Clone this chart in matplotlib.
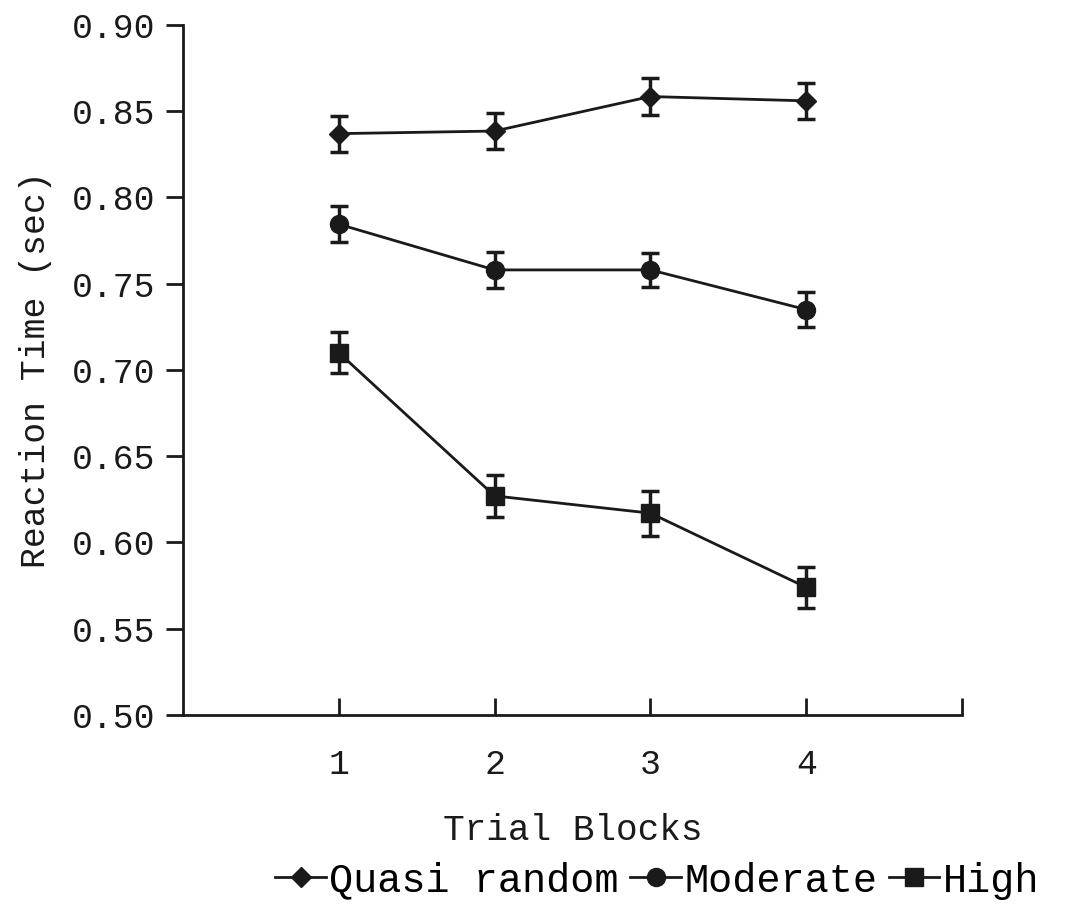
import matplotlib
matplotlib.use("Agg")
import matplotlib.pyplot as plt
from matplotlib.lines import Line2D

blocks = [1, 2, 3, 4]
quasi = [0.837, 0.8385, 0.8585, 0.856]
quasi_err = [0.0105, 0.0105, 0.0105, 0.0105]
moderate = [0.7845, 0.758, 0.758, 0.735]
moderate_err = [0.0105, 0.0105, 0.0100, 0.0100]
high = [0.710, 0.627, 0.617, 0.574]
high_err = [0.012, 0.012, 0.013, 0.012]
series_names = ["Quasi random", "Moderate", "High"]
yticks = [0.50, 0.55, 0.60, 0.65, 0.70, 0.75, 0.80, 0.85, 0.90]

plt.rcParams['font.family'] = ['Liberation Mono', 'DejaVu Sans Mono']

fig = plt.figure(figsize=(10.67, 9.24), dpi=100)
ax = fig.add_axes([0.1715, 0.2262, 0.7301, 0.7468])

col = '#1a1a1a'
common = dict(color=col, lw=2, capsize=6.5, capthick=2.5, elinewidth=2.5)
markers = ['D', 'o', 's']
sizes = [10, 13, 13]
for vals, errs, m, s, name in zip([quasi, moderate, high], [quasi_err, moderate_err, high_err],
                                   markers, sizes, series_names):
    ax.errorbar(blocks, vals, yerr=errs, marker=m, ms=s, **common)

ax.set_xlim(0, 5)
ax.set_ylim(0.50, 0.90)
ax.set_xticks([1, 2, 3, 4, 5])
ax.set_xticklabels(['1', '2', '3', '4', ''])
ax.set_yticks(yticks)
ax.set_yticklabels([f"{v:.2f}" for v in yticks])
for s in ['top', 'right']:
    ax.spines[s].set_visible(False)
for s in ['left', 'bottom']:
    ax.spines[s].set_linewidth(2)
    ax.spines[s].set_color(col)
ax.tick_params(axis='x', direction='in', length=12, width=2, pad=24, labelsize=25, colors=col)
ax.tick_params(axis='y', direction='out', length=12, width=2, pad=8, labelsize=25, colors=col)

ax.set_xlabel("Trial Blocks", fontsize=26, labelpad=23, color=col)
ax.set_ylabel("Reaction Time (sec)", fontsize=25, labelpad=14, color=col)

handles = [Line2D([], [], color=col, lw=2, marker=m, ms=s) for m, s in zip(markers, sizes)]
leg = fig.legend(handles, series_names, loc='center', bbox_to_anchor=(0.616, 0.047), ncol=3,
                 frameon=False, fontsize=29, handlelength=1.25, handletextpad=0.08,
                 columnspacing=0.3)

fig.savefig("out.png", dpi=100)
